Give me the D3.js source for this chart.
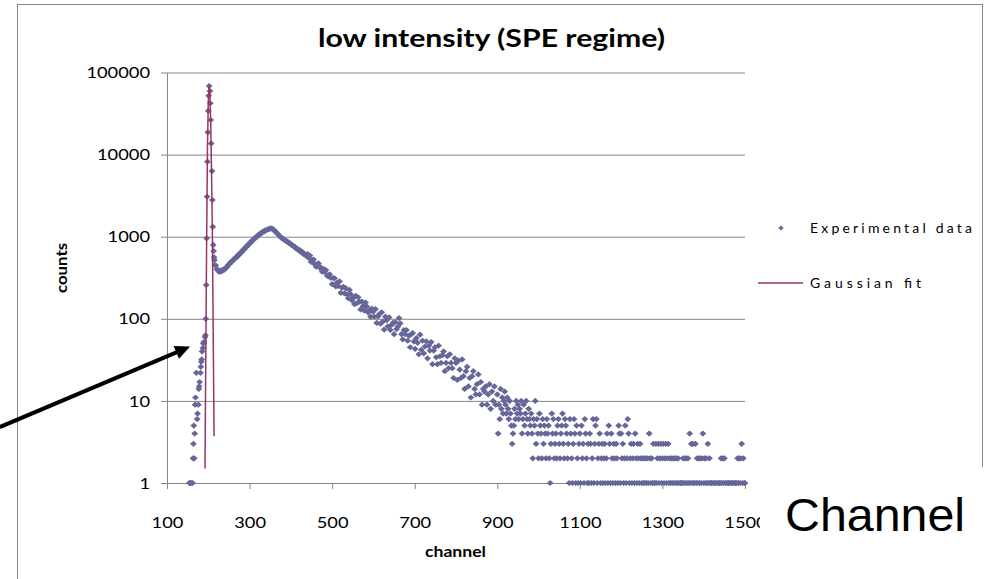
<!DOCTYPE html>
<html>
<head>
<meta charset="utf-8">
<title>low intensity (SPE regime)</title>
<script src="https://d3js.org/d3.v7.min.js"></script>
<style>
body {margin:0; background:#fff}
svg {display:block; font-family: Lato, "Open Sans", sans-serif}
</style>
</head>
<body>
<svg id="chart" width="987" height="579"></svg>
<script>
// axis ticks
var xTicks = [100, 300, 500, 700, 900, 1100, 1300, 1500];
var yTicks = [1, 10, 100, 1000, 10000, 100000];

// SPE / pedestal peak: channel and counts
var pedCh = [154, 156, 158, 160, 162, 163, 164, 165, 166, 167, 168, 169, 171, 173, 174,
             176, 177, 178, 179, 181, 182, 183, 184, 185, 187, 188, 189, 192, 193, 194, 195,
             196, 197, 198, 199, 200, 201, 202, 204, 205, 206, 207, 209, 210, 211, 212, 213, 214, 215, 216];
var pedN  = [1, 1, 1, 1, 1, 2, 3, 5, 2, 4, 9, 11, 22, 6, 7,
             9, 14, 15, 17, 22, 26, 30, 32, 40, 44, 50, 52, 60, 63, 100, 258,
             955, 3070, 8200, 18700, 34000, 52100, 68500, 59500, 42200, 26400, 13700, 6300, 2800, 1320, 795, 670, 561, 520, 452];

// main bump, channel 218 onwards every 3 channels
var bumpStart = 218, bumpStep = 3;
var bumpN = [
  446, 402, 384, 372, 388, 380, 398, 396, 418, 426,
  452, 462, 488, 494, 522, 530, 558, 562, 598, 604,
  640, 648, 690, 698, 742, 752, 798, 812, 862, 872,
  918, 932, 978, 990, 1040, 1050, 1098, 1104, 1150, 1156,
  1195, 1198, 1232, 1236, 1262, 1258, 1244, 1196, 1166, 1118,
  1086, 1034, 1006, 968, 956, 922, 912, 878, 872, 838,
  832, 796, 792, 758, 752, 716, 712, 682, 686, 648,
  650, 612, 616, 582, 614, 553, 590, 492, 518, 526,
  463, 431, 465, 472, 418, 421, 374, 404, 373, 393,
  335, 329, 349, 316, 265, 314, 312, 248, 276, 251,
  285, 207, 239, 245, 204, 236, 199, 178, 225, 199,
  168, 180, 151, 190, 155, 183, 162, 130, 162, 143,
  126, 158, 141, 120, 126, 106, 133, 122, 106, 131,
  89, 107, 114, 87, 120, 93, 74, 106, 96, 81,
  104, 73, 84, 89, 65, 91, 75, 80, 102, 88,
  65, 56, 73, 65, 73, 54, 62, 45, 65, 67,
  53, 43, 58, 51, 37, 64, 42, 54, 38, 46,
  53, 33, 47, 41, 52, 28, 41, 45, 34, 28,
  47, 35, 29, 36, 40, 23, 29, 35, 25, 37,
  29, 25, 19, 33, 29, 18, 31, 24, 19, 32,
  20, 14, 23, 26, 15, 19, 11, 20, 23, 14,
  12, 16, 21, 12, 17, 9, 14, 13, 15, 9,
  12, 16, 8, 13, 10, 15, 9
];

// tail, channel 900 onwards every 2 channels (0 = empty channel)
var tailStart = 900, tailStep = 2;
var tailN = [
  12, 4, 9, 6, 14, 8, 11, 7, 10, 13,
  9, 7, 11, 8, 6, 10, 7, 5, 3, 4,
  5, 8, 6, 10, 7, 9, 6, 8, 7, 10,
  4, 6, 9, 5, 7, 10, 6, 4, 8, 6,
  5, 7, 4, 2, 6, 5, 10, 3, 6, 4,
  2, 7, 5, 4, 2, 6, 3, 5, 4, 2,
  6, 4, 5, 2, 1, 3, 7, 4, 6, 2,
  3, 4, 2, 5, 6, 3, 2, 4, 5, 7,
  3, 2, 6, 5, 4, 2, 3, 1, 6, 4,
  2, 1, 3, 6, 4, 1, 5, 2, 1, 3,
  4, 1, 5, 2, 3, 1, 6, 4, 2, 1,
  3, 1, 4, 3, 1, 2, 6, 1, 3, 5,
  6, 1, 2, 3, 4, 1, 2, 3, 1, 2,
  3, 1, 2, 4, 1, 5, 3, 1, 4, 2,
  1, 3, 2, 1, 3, 2, 1, 5, 4, 1,
  4, 2, 3, 1, 2, 5, 1, 2, 6, 4,
  1, 2, 3, 1, 2, 3, 1, 4, 2, 1,
  3, 2, 1, 3, 2, 1, 2, 1, 2, 1,
  2, 1, 2, 1, 4, 2, 1, 2, 1, 3,
  1, 1, 3, 1, 2, 3, 1, 2, 3, 1,
  2, 3, 1, 2, 3, 1, 2, 3, 1, 2,
  1, 2, 1, 2, 1, 2, 1, 2, 1, 2,
  1, 0, 1, 1, 1, 2, 1, 2, 1, 2,
  1, 2, 1, 4, 1, 3, 1, 3, 1, 1,
  3, 1, 2, 1, 2, 1, 2, 1, 2, 4,
  1, 2, 1, 2, 1, 3, 1, 2, 1, 1,
  1, 0, 1, 1, 0, 1, 1, 0, 1, 1,
  1, 2, 1, 2, 1, 2, 1, 1, 0, 1,
  1, 1, 0, 1, 1, 1, 0, 1, 1, 1,
  1, 2, 1, 2, 1, 2, 3, 1, 2, 1,
  1
];

// gaussian fit of the SPE peak
var fitCh = [192, 196, 198, 200, 202, 204, 206, 208, 210, 214];
var fitN  = [1.5, 900, 12000, 45000, 68000, 55000, 22000, 5500, 1000, 3.7];

// annotation arrow (channel, counts)
var arrowFrom = [-305, 4.8], arrowTo = [156, 46];

var dotColor = "#666699", fitColor = "#993366", axisColor = "#868686";

var svg = d3.select("#chart");

var x = d3.scaleLinear().domain([100, 1500]).range([167, 745]);
var y = d3.scaleLog().domain([1, 100000]).range([483, 72.5]);

// outer frame
svg.append("rect")
  .attr("x", 17.5).attr("y", 4.5)
  .attr("width", 965).attr("height", 700)
  .attr("fill", "none").attr("stroke", "#898989");

// horizontal gridlines
svg.append("g")
  .attr("transform", "translate(167,0)")
  .call(d3.axisLeft(y).tickValues(yTicks.slice(1)).tickSize(-(x(1500) - x(100))).tickFormat(""))
  .call(g => g.select(".domain").remove())
  .selectAll("line").attr("stroke", axisColor);

// y axis
var yAxis = svg.append("g")
  .attr("transform", "translate(167,0)")
  .call(d3.axisLeft(y).tickValues(yTicks).tickFormat(d3.format("d")).tickSize(6).tickSizeOuter(0).tickPadding(11));

// x axis
var xAxis = svg.append("g")
  .attr("transform", "translate(0,483)")
  .call(d3.axisBottom(x).tickValues(xTicks).tickFormat(d3.format("d")).tickSize(6).tickSizeOuter(0).tickPadding(28));

[yAxis, xAxis].forEach(function(g) {
  g.select(".domain").attr("stroke", axisColor);
  g.selectAll(".tick line").attr("stroke", axisColor);
  g.selectAll("text")
    .attr("font-family", "Lato, sans-serif")
    .attr("font-size", 16)
    .attr("fill", "#000")
    .attr("textLength", d => String(d).length * 10.6)
    .attr("lengthAdjust", "spacingAndGlyphs");
});

// experimental data
var points = [];
pedCh.forEach(function(c, i) { points.push([c, pedN[i]]); });
bumpN.forEach(function(n, i) { points.push([bumpStart + i * bumpStep, n]); });
tailN.forEach(function(n, i) { points.push([tailStart + i * tailStep, n]); });
points = points.filter(p => p[1] > 0);

var diamond = "M0,-3.1L3.4,0L0,3.1L-3.4,0Z";

svg.append("g")
  .selectAll("path")
  .data(points)
  .enter().append("path")
    .attr("d", diamond)
    .attr("transform", d => "translate(" + x(d[0]) + "," + y(d[1]) + ")")
    .attr("fill", dotColor);

// gaussian fit
var fit = fitCh.map((c, i) => [c, fitN[i]]);
svg.append("path")
  .datum(fit)
  .attr("fill", "none")
  .attr("stroke", fitColor)
  .attr("stroke-width", 1.5)
  .attr("d", d3.line().x(d => x(d[0])).y(d => y(d[1])));

// title
svg.append("text")
  .attr("x", 491.5).attr("y", 47)
  .attr("text-anchor", "middle")
  .attr("font-weight", "bold").attr("font-size", 24)
  .attr("textLength", 347).attr("lengthAdjust", "spacingAndGlyphs")
  .text("low intensity (SPE regime)");

// axis titles
svg.append("text")
  .attr("transform", "translate(67,268) rotate(-90)")
  .attr("text-anchor", "middle")
  .attr("font-weight", "bold").attr("font-size", 15)
  .attr("textLength", 50).attr("lengthAdjust", "spacingAndGlyphs")
  .text("counts");

svg.append("text")
  .attr("x", 455.5).attr("y", 557)
  .attr("text-anchor", "middle")
  .attr("font-weight", "bold").attr("font-size", 15)
  .attr("textLength", 61).attr("lengthAdjust", "spacingAndGlyphs")
  .text("channel");

// legend
var legend = svg.append("g");
legend.append("path")
  .attr("d", "M0,-2.5L2.6,0L0,2.5L-2.6,0Z")
  .attr("transform", "translate(781,228)")
  .attr("fill", dotColor);
legend.append("text")
  .attr("x", 810).attr("y", 233)
  .attr("font-size", 14)
  .attr("textLength", 162).attr("lengthAdjust", "spacing")
  .text("Experimental data");
legend.append("line")
  .attr("x1", 758).attr("x2", 803)
  .attr("y1", 283).attr("y2", 283)
  .attr("stroke", fitColor).attr("stroke-width", 1.5);
legend.append("text")
  .attr("x", 810).attr("y", 288)
  .attr("font-size", 14)
  .attr("textLength", 111).attr("lengthAdjust", "spacing")
  .text("Gaussian fit");

// arrow pointing at the low edge of the peak
var ax0 = x(arrowFrom[0]), ay0 = y(arrowFrom[1]);
var ax1 = x(arrowTo[0]), ay1 = y(arrowTo[1]);
var ang = Math.atan2(ay1 - ay0, ax1 - ax0);
var headLen = 15, headHalf = 7;
var bx = ax1 - headLen * Math.cos(ang), by = ay1 - headLen * Math.sin(ang);
svg.append("line")
  .attr("x1", ax0).attr("y1", ay0)
  .attr("x2", bx + 2 * Math.cos(ang)).attr("y2", by + 2 * Math.sin(ang))
  .attr("stroke", "#000").attr("stroke-width", 4);
svg.append("path")
  .attr("d", "M" + ax1 + "," + ay1 +
             "L" + (bx + headHalf * Math.sin(ang)) + "," + (by - headHalf * Math.cos(ang)) +
             "L" + (bx - headHalf * Math.sin(ang)) + "," + (by + headHalf * Math.cos(ang)) + "Z")
  .attr("fill", "#000");

// big "Channel" label on a white patch
svg.append("rect")
  .attr("x", 760).attr("y", 467)
  .attr("width", 227).attr("height", 112)
  .attr("fill", "#fff");
svg.append("text")
  .attr("x", 785).attr("y", 531)
  .attr("font-family", "'Liberation Sans', Arial, sans-serif")
  .attr("font-size", 46)
  .attr("textLength", 180).attr("lengthAdjust", "spacingAndGlyphs")
  .text("Channel");
</script>
</body>
</html>
